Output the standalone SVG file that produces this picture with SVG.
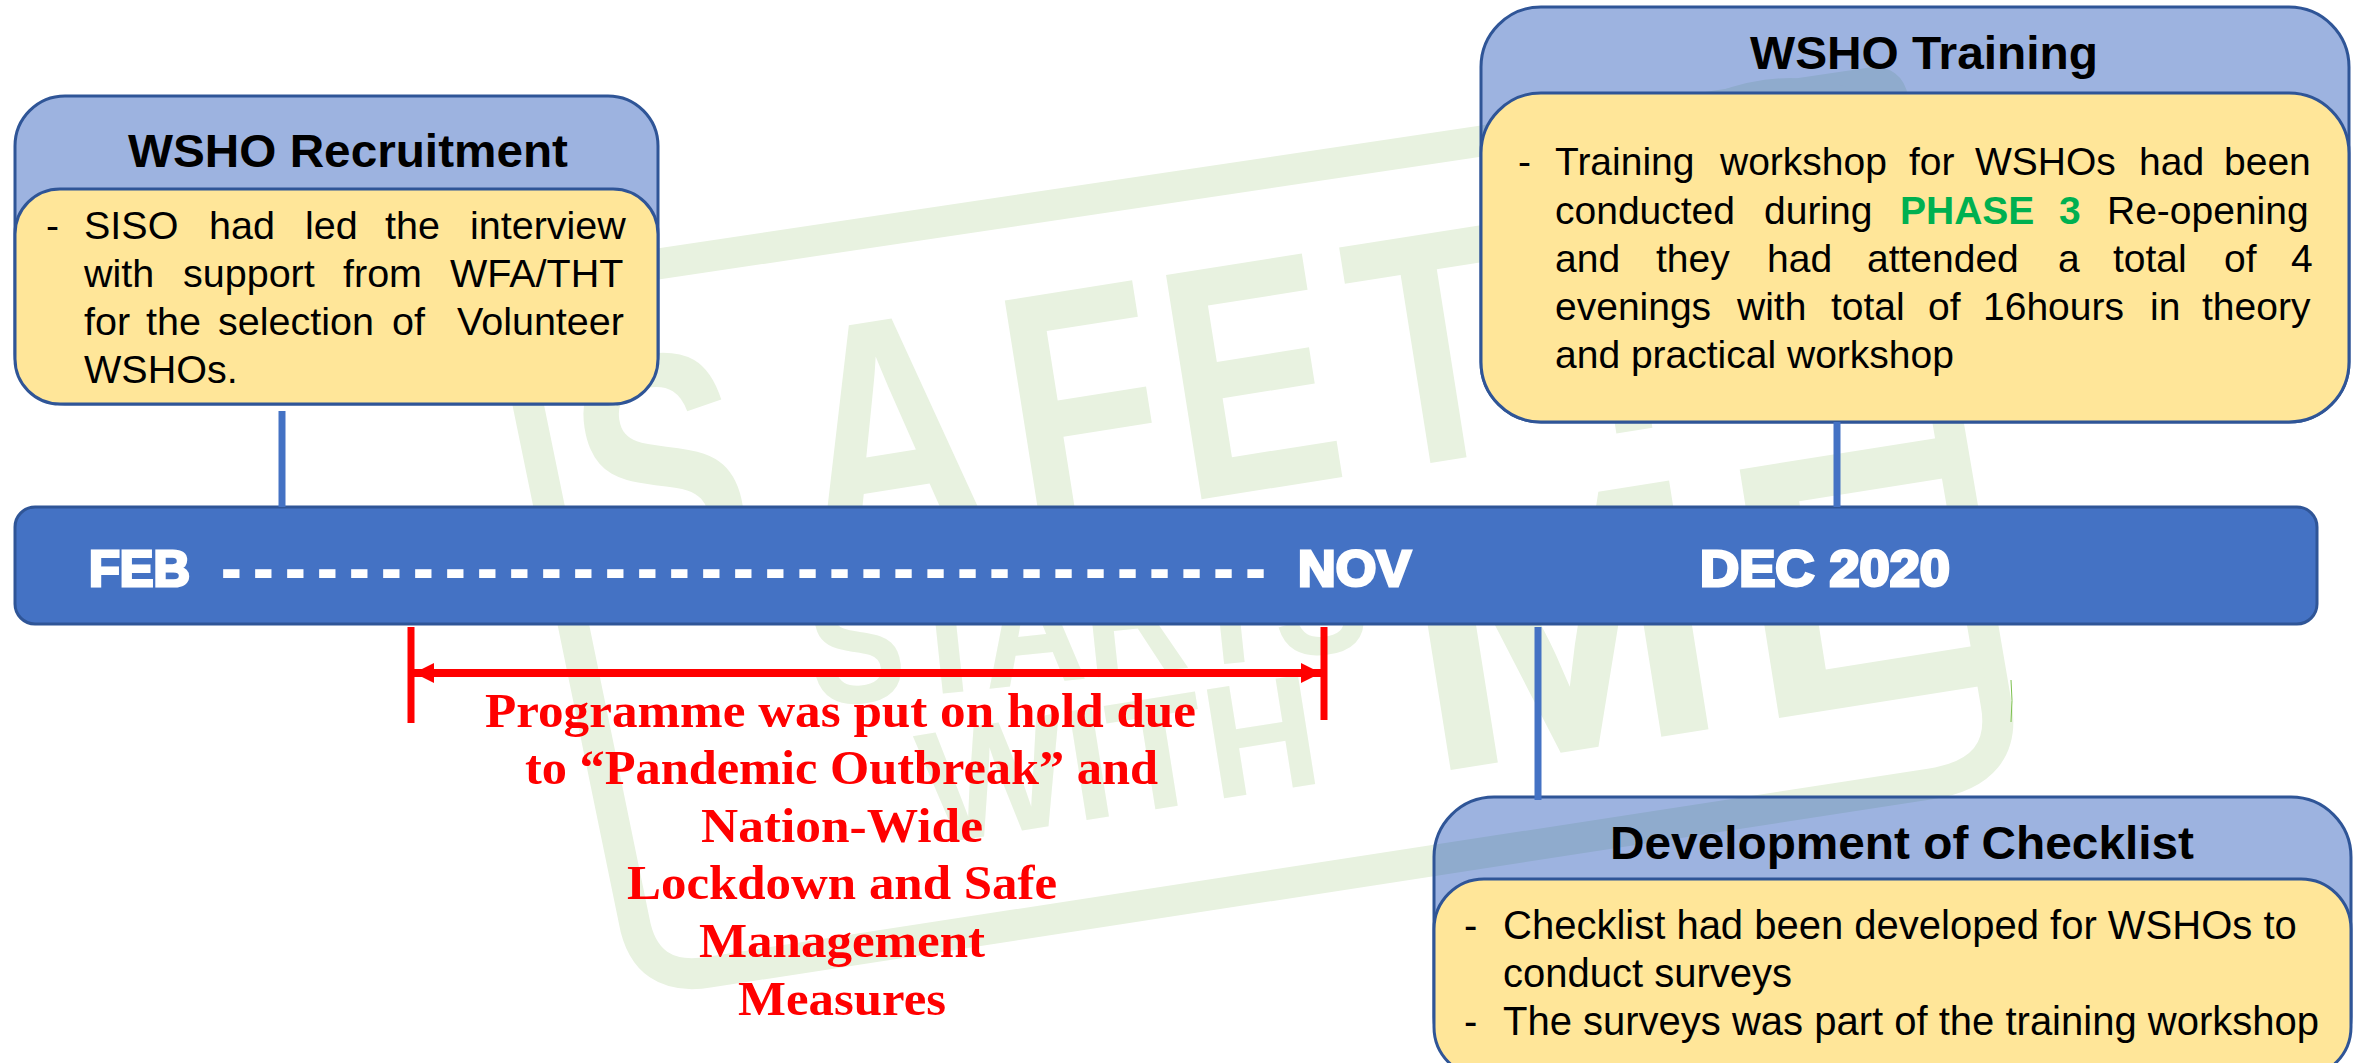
<svg xmlns="http://www.w3.org/2000/svg" width="2362" height="1063" viewBox="0 0 2362 1063">
<style>
.wm{fill:#E8F2E0;font-family:"Liberation Sans",Arial,sans-serif;font-weight:700}
.hd{fill:#0A41B1;fill-opacity:.4;stroke:#2F5597;stroke-width:3}
.bd{fill:#FFE699;stroke:#2F5597;stroke-width:3}
.ti{font-family:"Liberation Sans",Arial,sans-serif;font-weight:700;font-size:47px;fill:#000}
.tx{font-family:"Liberation Sans",Arial,sans-serif;font-size:39px;fill:#000}
.ck{font-size:40px}
.bl{font-family:"Liberation Sans",Arial,sans-serif;font-weight:700;font-size:50px;fill:#fff;stroke:#fff;stroke-width:3}
.rd{font-family:"Liberation Serif","Times New Roman",serif;font-weight:700;font-size:48px;fill:#f00}
.cn{stroke:#4472C4;stroke-width:7;fill:none}
.rl{stroke:#f00;fill:none}
</style>
<defs>
<marker id="ah" viewBox="0 0 10 10" refX="10" refY="5" markerWidth="20" markerHeight="24" markerUnits="userSpaceOnUse" orient="auto-start-reverse"><path d="M0 0L10 5L0 10Z" fill="#f00"/></marker>
</defs>
<rect width="2362" height="1063" fill="#fff"/>
<g id="watermark">
<path d="M504 287L1870 83Q1890 80 1893 100L1996 703Q2009 772 1930 784L710 972Q645 983 634 920L504 287" fill="none" stroke="#E8F2E0" stroke-width="31"/>
<path d="M1717 92Q1793 64 1860 92Z" fill="#E8F2E0"/>
<path d="M2011 680Q2013 700 2011 722" fill="none" stroke="#7CC04F" stroke-width="1"/>
<text class="wm" font-size="330" transform="translate(660 585) rotate(-9) scale(.77 1)" x="-85 204 478 690 936 1171">SAFETY</text>
<text class="wm" font-size="170" transform="translate(815 707) rotate(-6) scale(.84 1)">STARTS</text>
<text class="wm" font-size="160" transform="translate(930 845) rotate(-9) scale(.98 1)">WITH</text>
<text class="wm" font-size="366" transform="translate(1426 774) rotate(-9) scale(1.02 1)" x="0 326">ME</text>
</g>
<g id="timeline-bar">
<rect x="15" y="507" width="2302" height="117" rx="20" fill="#4472C4" stroke="#2F5597" stroke-width="3"/>
<text class="bl" x="89" y="586" textLength="101" lengthAdjust="spacingAndGlyphs">FEB</text>
<text class="bl" x="222" y="588" style="font-size:56px;stroke-width:2" letter-spacing="-1.1">- - - - - - - - - - - - - - - - - - - - - - - - - - - - - - - - -</text>
<text class="bl" x="1298" y="586" textLength="113" lengthAdjust="spacingAndGlyphs">NOV</text>
<text class="bl" x="1700" y="586" textLength="250" lengthAdjust="spacingAndGlyphs">DEC 2020</text>
</g>
<g id="wsho-recruitment">
<rect class="hd" x="15" y="96" width="643" height="308" rx="50"/>
<rect class="bd" x="15" y="189" width="643" height="215" rx="45"/>
<text class="ti" x="128" y="167" textLength="440" lengthAdjust="spacingAndGlyphs">WSHO Recruitment</text>
<text class="tx" x="46" y="239">-</text>
<text class="tx" y="239" style="font-size:39.5px"><tspan x="84">SISO</tspan><tspan x="209">had</tspan><tspan x="305">led</tspan><tspan x="385">the</tspan><tspan x="470">interview</tspan></text>
<text class="tx" y="287" style="font-size:39.5px"><tspan x="84">with</tspan><tspan x="183">support</tspan><tspan x="343">from</tspan><tspan x="450">WFA/THT</tspan></text>
<text class="tx" y="335" style="font-size:39.5px"><tspan x="84">for</tspan><tspan x="146">the</tspan><tspan x="218">selection</tspan><tspan x="392">of</tspan><tspan x="457">Volunteer</tspan></text>
<text class="tx" x="84" y="383" style="font-size:39.5px">WSHOs.</text>
</g>
<g id="wsho-training">
<rect class="hd" x="1481" y="7" width="868" height="415" rx="60"/>
<rect class="bd" x="1481" y="93" width="868" height="329" rx="60"/>
<text class="ti" x="1750" y="69" textLength="348" lengthAdjust="spacingAndGlyphs">WSHO Training</text>
<text class="tx" x="1518" y="175">-</text>
<text class="tx" y="175"><tspan x="1555">Training</tspan><tspan x="1720">workshop</tspan><tspan x="1909">for</tspan><tspan x="1975">WSHOs</tspan><tspan x="2139">had</tspan><tspan x="2224">been</tspan></text>
<text class="tx" y="224"><tspan x="1555">conducted</tspan><tspan x="1764">during</tspan><tspan x="1900" fill="#00B050" font-weight="700">PHASE</tspan><tspan x="2059" fill="#00B050" font-weight="700">3</tspan><tspan x="2107">Re-opening</tspan></text>
<text class="tx" y="272"><tspan x="1555">and</tspan><tspan x="1656">they</tspan><tspan x="1767">had</tspan><tspan x="1867">attended</tspan><tspan x="2058">a</tspan><tspan x="2113">total</tspan><tspan x="2224">of</tspan><tspan x="2291">4</tspan></text>
<text class="tx" y="320"><tspan x="1555">evenings</tspan><tspan x="1737">with</tspan><tspan x="1831">total</tspan><tspan x="1928">of</tspan><tspan x="1983">16hours</tspan><tspan x="2150">in</tspan><tspan x="2202">theory</tspan></text>
<text class="tx" x="1555" y="368">and practical workshop</text>
</g>
<g id="development-of-checklist">
<rect class="hd" x="1434" y="797" width="917" height="280" rx="60"/>
<rect class="bd" x="1434" y="879" width="917" height="198" rx="50"/>
<text class="ti" x="1610" y="859" textLength="584" lengthAdjust="spacingAndGlyphs">Development of Checklist</text>
<text class="tx ck" x="1464" y="939">-</text>
<text class="tx ck" x="1503" y="939">Checklist had been developed for WSHOs to</text>
<text class="tx ck" x="1503" y="987">conduct surveys</text>
<text class="tx ck" x="1464" y="1035">-</text>
<text class="tx ck" x="1503" y="1035">The surveys was part of the training workshop</text>
</g>
<g id="connectors">
<line class="cn" x1="282" y1="411" x2="282" y2="507"/>
<line class="cn" x1="1837" y1="422" x2="1837" y2="507"/>
<line class="cn" x1="1538" y1="627" x2="1538" y2="800"/>
<line class="rl" stroke-width="7" x1="411" y1="627" x2="411" y2="723"/>
<line class="rl" stroke-width="7" x1="1324" y1="627" x2="1324" y2="720"/>
<line class="rl" stroke-width="8" x1="414" y1="673" x2="1321" y2="673" marker-start="url(#ah)" marker-end="url(#ah)"/>
</g>
<g id="hold-note">
<text class="rd" x="485" y="727" textLength="711" lengthAdjust="spacingAndGlyphs">Programme was put on hold due</text>
<text class="rd" x="525" y="784" textLength="633" lengthAdjust="spacingAndGlyphs">to “Pandemic Outbreak” and</text>
<text class="rd" x="701" y="842" textLength="282" lengthAdjust="spacingAndGlyphs">Nation-Wide</text>
<text class="rd" x="627" y="899" textLength="430" lengthAdjust="spacingAndGlyphs">Lockdown and Safe</text>
<text class="rd" x="699" y="957" textLength="286" lengthAdjust="spacingAndGlyphs">Management</text>
<text class="rd" x="738" y="1015" textLength="208" lengthAdjust="spacingAndGlyphs">Measures</text>
</g>
</svg>
